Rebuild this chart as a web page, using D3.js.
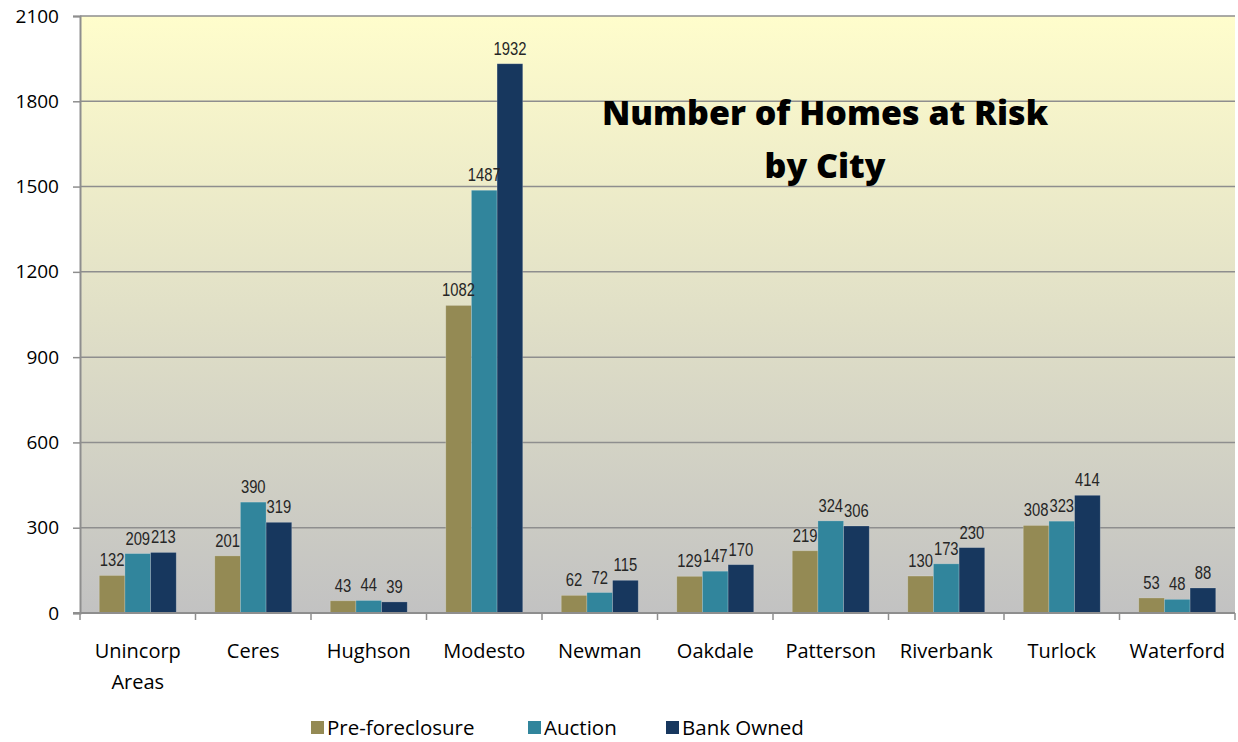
<!DOCTYPE html>
<html>
<head>
<meta charset="utf-8">
<script src="https://cdn.jsdelivr.net/npm/d3@7"></script>
<style>
  body { margin: 0; background: #fff; }
</style>
</head>
<body>
<div id="canvas"></div>
<script>
"use strict";

/* Data */
let cities = ["Unincorp Areas", "Ceres", "Hughson", "Modesto", "Newman",
  "Oakdale", "Patterson", "Riverbank", "Turlock", "Waterford"];
let seriesNames = ["Pre-foreclosure", "Auction", "Bank Owned"];
let preForeclosure = [132, 201, 43, 1082, 62, 129, 219, 130, 308, 53];
let auction = [209, 390, 44, 1487, 72, 147, 324, 173, 323, 48];
let bankOwned = [213, 319, 39, 1932, 115, 170, 306, 230, 414, 88];
let yTicks = [0, 300, 600, 900, 1200, 1500, 1800, 2100];

/* Drawing configuration */
let svgWidth = 1238;
let svgHeight = 742;
let plotLeft = 80, plotRight = 1235, plotTop = 16, plotBottom = 613;
let colors = ["#948A54", "#31859C", "#17375E"];
let labelFont = "'Liberation Sans', Arial, sans-serif";
let labelSquash = 0.78; // narrow look for the data labels
let textFont = "'Open Sans', 'Noto Sans', sans-serif";

let svg = d3.select("#canvas")
  .append("svg")
  .attr("width", svgWidth)
  .attr("height", svgHeight);

/* Background gradient of the plot area */
let grad = svg.append("defs").append("linearGradient")
  .attr("id", "bg")
  .attr("x1", 0).attr("y1", 0).attr("x2", 0).attr("y2", 1);
grad.append("stop").attr("offset", "0%").attr("stop-color", "#FFFDCC");
grad.append("stop").attr("offset", "100%").attr("stop-color", "#C2C2C2");

svg.append("rect")
  .attr("x", plotLeft)
  .attr("y", plotTop)
  .attr("width", plotRight - plotLeft)
  .attr("height", plotBottom - plotTop)
  .attr("fill", "url(#bg)");

/* Scales */
let xScale = d3.scaleBand()
  .domain(cities)
  .range([plotLeft, plotRight]);

let groupWidth = xScale.bandwidth() * 3 / 4.5; // 150% gap width
let xSub = d3.scaleBand()
  .domain(seriesNames)
  .range([0, groupWidth]);

let yScale = d3.scaleLinear()
  .domain([0, 2100])
  .range([plotBottom, plotTop]);

/* Gridlines */
svg.append("g")
  .selectAll("line")
  .data(yTicks.filter(d => d > 0))
  .join("line")
  .attr("x1", plotLeft)
  .attr("x2", plotRight)
  .attr("y1", d => yScale(d))
  .attr("y2", d => yScale(d))
  .attr("stroke", "#8E8E8E")
  .attr("stroke-width", 1.5);

/* Y axis */
let yAxis = svg.append("g")
  .attr("transform", `translate(${plotLeft},0)`)
  .call(d3.axisLeft(yScale).tickValues(yTicks).tickFormat(d3.format("d"))
    .tickSize(7).tickPadding(14));
yAxis.select(".domain").attr("stroke", "#8E8E8E").attr("stroke-width", 2);
yAxis.selectAll(".tick line").attr("stroke", "#8E8E8E").attr("stroke-width", 1.5);
yAxis.selectAll(".tick text")
  .attr("font-family", textFont)
  .attr("font-size", 19)
  .attr("fill", "#000");

/* Bars */
let table = cities.map((c, i) => ({
  city: c,
  values: [preForeclosure[i], auction[i], bankOwned[i]]
}));

let groups = svg.append("g")
  .selectAll("g")
  .data(table)
  .join("g")
  .attr("transform", d => `translate(${xScale(d.city) + (xScale.bandwidth() - groupWidth) / 2},0)`);

let barData = d => d.values.map((v, j) => ({ name: seriesNames[j], value: v, j: j }));

groups.selectAll("rect")
  .data(barData)
  .join("rect")
  .attr("x", d => xSub(d.name))
  .attr("y", d => yScale(d.value))
  .attr("width", xSub.bandwidth())
  .attr("height", d => yScale(0) - yScale(d.value))
  .attr("fill", d => colors[d.j])
  .attr("stroke", "rgba(255,255,255,0.25)")
  .attr("stroke-width", 0.8);

/* Data labels (horizontally squashed to imitate a narrow face) */
groups.selectAll("text")
  .data(barData)
  .join("text")
  .attr("transform", `scale(${labelSquash},1)`)
  .attr("x", d => (xSub(d.name) + xSub.bandwidth() / 2) / labelSquash)
  .attr("y", d => yScale(d.value) - 9)
  .attr("text-anchor", "middle")
  .attr("font-family", labelFont)
  .attr("font-size", 19)
  .attr("fill", "#262626")
  .text(d => d.value);

/* X axis */
let xAxisG = svg.append("g");
xAxisG.append("line")
  .attr("x1", plotLeft - 7)
  .attr("x2", plotRight)
  .attr("y1", plotBottom)
  .attr("y2", plotBottom)
  .attr("stroke", "#8E8E8E")
  .attr("stroke-width", 2);

let tickXs = cities.map(c => xScale(c)).concat([plotRight]);
xAxisG.selectAll("line.tick")
  .data(tickXs)
  .join("line")
  .attr("class", "tick")
  .attr("x1", d => d)
  .attr("x2", d => d)
  .attr("y1", plotBottom)
  .attr("y2", plotBottom + 7)
  .attr("stroke", "#8E8E8E")
  .attr("stroke-width", 1.5);

let catLabels = xAxisG.selectAll("text")
  .data(cities)
  .join("text")
  .attr("x", d => xScale(d) + xScale.bandwidth() / 2)
  .attr("y", plotBottom + 45)
  .attr("text-anchor", "middle")
  .attr("font-family", textFont)
  .attr("font-size", 20)
  .attr("fill", "#000");

catLabels.each(function (d) {
  let words = d === "Unincorp Areas" ? ["Unincorp", "Areas"] : [d];
  let t = d3.select(this);
  words.forEach((w, k) => {
    t.append("tspan")
      .attr("x", xScale(d) + xScale.bandwidth() / 2)
      .attr("dy", k === 0 ? 0 : 31)
      .text(w);
  });
});

/* Title */
let title = svg.append("text")
  .attr("text-anchor", "middle")
  .attr("font-family", textFont)
  .attr("font-weight", 800)
  .attr("font-size", 34)
  .attr("fill", "#000");
title.append("tspan").attr("x", 825).attr("y", 125).text("Number of Homes at Risk");
title.append("tspan").attr("x", 825).attr("y", 178).text("by City");

/* Legend */
let legendX = [311, 528, 666];
let legend = svg.append("g")
  .selectAll("g")
  .data(seriesNames)
  .join("g")
  .attr("transform", (d, i) => `translate(${legendX[i]},721)`);

legend.append("rect")
  .attr("width", 13)
  .attr("height", 13)
  .attr("fill", (d, i) => colors[i]);

legend.append("text")
  .attr("x", 16)
  .attr("y", 14)
  .attr("font-family", textFont)
  .attr("font-size", 20.5)
  .attr("fill", "#000")
  .text(d => d);
</script>
</body>
</html>
